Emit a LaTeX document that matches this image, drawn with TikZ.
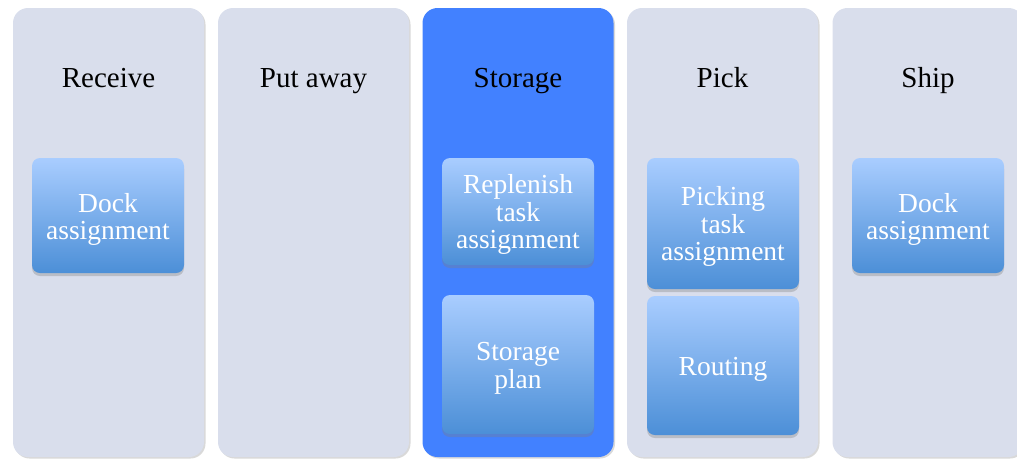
\documentclass[tikz,border=0pt]{standalone}
\usepackage{fontspec}
\setmainfont{Liberation Serif}
\usetikzlibrary{shadows}
\definecolor{lanefill}{HTML}{D9DEEC}
\definecolor{lanehi}{HTML}{4281FF}
\definecolor{boxtop}{HTML}{A9CDFF}
\definecolor{boxbot}{HTML}{4C8FD7}
\begin{document}
\begin{tikzpicture}[x=1pt,y=-1pt,
  lane/.style={rounded corners=15pt, fill=lanefill, minimum width=191pt, minimum height=449pt,
    inner sep=0pt, drop shadow={shadow xshift=1.5pt, shadow yshift=-1.5pt, opacity=0.3}},
  lanehl/.style={lane, fill=lanehi},
  title/.style={font=\fontsize{29}{29}\selectfont, text=black, anchor=base},
  task/.style={rounded corners=8pt, top color=boxtop, bottom color=boxbot, minimum width=152pt,
    inner sep=0pt, drop shadow={shadow xshift=0pt, shadow yshift=-3pt, opacity=0.35}},
  tasktext/.style={text=white, align=center, inner sep=0pt, font=\fontsize{27.5}{27.5}\selectfont}]
  \useasboundingbox (0,0) rectangle (1017,459);
  \clip (0,0) rectangle (1017,459);

  % swimlanes
  \node[lane]   (receive) at (108.5,232.5) {};
  \node[lane]   (putaway) at (313.5,232.5) {};
  \node[lanehl] (storage) at (518,232.5) {};
  \node[lane]   (pick)    at (722.5,232.5) {};
  \node[lane]   (ship)    at (928,232.5) {};

  % lane headings, on a common baseline
  \node[title] (receiveT) at (108.5,87) {Receive};
  \node[title] (putawayT) at (313.5,87) {Put away};
  \node[title] (storageT) at (518,87) {Storage};
  \node[title] (pickT)    at (722.5,87) {Pick};
  \node[title] (shipT)    at (928,87) {Ship};

  % task boxes
  \node[task, minimum height=115pt] (dockA)   at (108,215.5) {};
  \node[task, minimum height=107pt] (repl)    at (518,211.5) {};
  \node[task, minimum height=139pt] (plan)    at (518,364.5) {};
  \node[task, minimum height=131pt] (picking) at (723,223.5) {};
  \node[task, minimum height=139pt] (routing) at (723,365.5) {};
  \node[task, minimum height=115pt] (dockB)   at (928,215.5) {};

  % task labels
  \node[tasktext] (dockAT)    at ([yshift=-4pt]dockA.center)   {Dock\\assignment};
  \node[tasktext] (replT)     at ([yshift=-3pt]repl.center)    {Replenish\\task\\assignment};
  \node[tasktext] (planT)     at ([yshift=-4pt]plan.center)    {Storage\\plan};
  \node[tasktext] (pickingT)  at ([yshift=-3pt]picking.center) {Picking\\task\\assignment};
  \node[tasktext] (routingT)  at ([yshift=-4pt]routing.center) {Routing};
  \node[tasktext] (dockBT)    at ([yshift=-4pt]dockB.center)   {Dock\\assignment};
\end{tikzpicture}
\end{document}
